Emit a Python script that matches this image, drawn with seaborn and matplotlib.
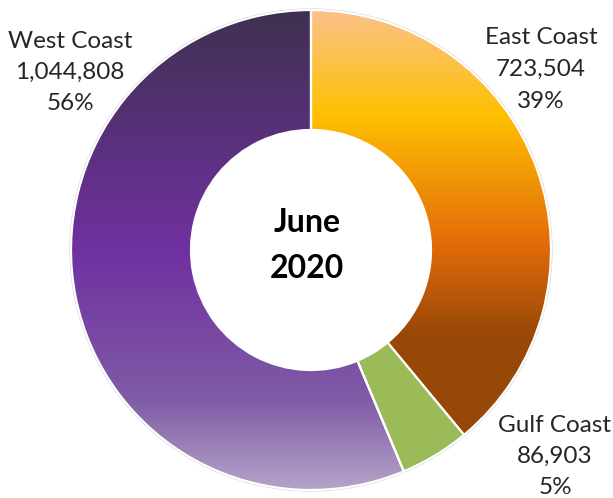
import numpy as np
import matplotlib
matplotlib.use("Agg")
import matplotlib.pyplot as plt
import seaborn as sns
from matplotlib.colors import LinearSegmentedColormap

# ---- data ----
categories = ["East Coast", "Gulf Coast", "West Coast"]
values = [723504, 86903, 1044808]
center_lines = ["June", "2020"]

sns.set_theme(style="white")
plt.rcParams["font.family"] = ["Lato", "DejaVu Sans"]

W, H, DPI = 613, 498, 100
fig = plt.figure(figsize=(W / DPI, H / DPI), dpi=DPI)
ax = fig.add_axes([0, 0, 1, 1])
cx, cy, R = 311, 250, 240  # pixel centre and radius

def py(p):  # pixel row -> data y
    return (cy - p) / R

def px(p):
    return (p - cx) / R

total = sum(values)
wedges, _ = ax.pie(values, startangle=90, counterclock=False, radius=1.0,
                   wedgeprops=dict(width=0.5, edgecolor="white", linewidth=1.6),
                   colors=["none", "#9BBB59", "none"])
wedges[0].set_facecolor((0, 0, 0, 0))
wedges[2].set_facecolor((0, 0, 0, 0))

def grad(stops):
    ys = [py(p) for p, _ in stops]
    lo, hi = -1.05, 1.05
    pos = [(y - lo) / (hi - lo) for y in ys]
    pairs = sorted(zip(pos, [c for _, c in stops]))
    pairs = [(0.0, pairs[0][1])] + pairs + [(1.0, pairs[-1][1])]
    cmap = LinearSegmentedColormap.from_list("g", pairs)
    arr = np.linspace(0, 1, 600).reshape(-1, 1)
    return cmap, arr, (lo, hi)

east_stops = [(11, "#FAC28A"), (115, "#FFC000"), (245, "#E26B0A"), (335, "#984807"), (420, "#974806")]
west_stops = [(11, "#3F3151"), (250, "#7030A0"), (400, "#7F5BA6"), (488, "#B3A2C7")]

for w, stops in [(wedges[0], east_stops), (wedges[2], west_stops)]:
    cmap, arr, (lo, hi) = grad(stops)
    im = ax.imshow(arr, cmap=cmap, origin="lower", aspect="auto",
                   extent=(-1.05, 1.05, lo, hi), vmin=0, vmax=1, zorder=0.5)
    im.set_clip_path(w)

for w in wedges:
    w.set_zorder(1)

# subtle outer rim
ax.add_patch(plt.Circle((0, 0), 1.003, fill=False, edgecolor="#D0D0D0", linewidth=1.2, zorder=0.4))

def lab(x_px, y_px, name, val, step=31.5):
    pct = round(val / total * 100)
    for i, s in enumerate([name, f"{val:,}", f"{pct}%"]):
        ax.text(px(x_px), py(y_px + i * step), s, ha="center", va="center",
                fontsize=17.5, color="#262626", clip_on=False)

lab(70, 41, categories[2], values[2])
lab(541, 38, categories[0], values[0])
lab(555, 426, categories[1], values[1], step=30.5)

ax.text(px(307), py(222), center_lines[0], ha="center", va="center",
        fontsize=23, fontweight="bold", color="black")
ax.text(px(307), py(268), center_lines[1], ha="center", va="center",
        fontsize=23, fontweight="bold", color="black")

ax.set_xlim(-cx / R, (W - cx) / R)
ax.set_ylim(-(H - cy) / R, cy / R)
ax.set_aspect("equal")
ax.axis("off")

fig.savefig("out.png", dpi=DPI)
